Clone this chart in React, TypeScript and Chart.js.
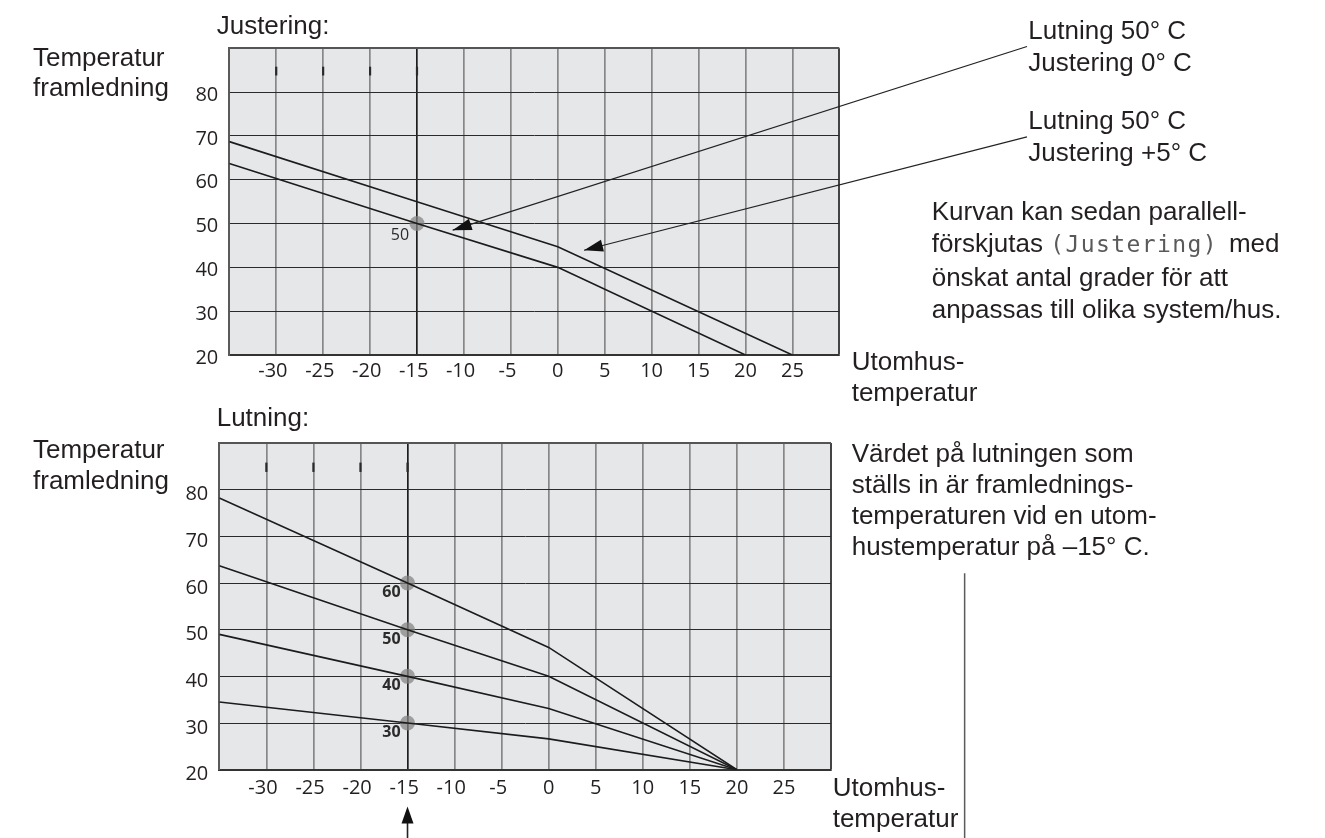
import React, { useEffect, useRef } from 'react';
import { Chart, registerables } from 'chart.js';

Chart.register(...registerables);

// ---- axes (outdoor temperature °C on x, supply temperature °C on y)
const X_MIN = -35;
const X_MAX = 30;
const Y_MIN = 20;
const Y_MAX = 90;
const X_TICKS = [-30, -25, -20, -15, -10, -5, 0, 5, 10, 15, 20, 25];
const Y_TICKS = [20, 30, 40, 50, 60, 70, 80];
const HIGHLIGHT_X = -15;

// ---- top chart: "Justering"
const ADJ0_X = [-35, -15, 0, 20];
const ADJ0_Y = [63.7, 50, 40, 20];
const ADJ5_X = [-35, -15, 0, 25];
const ADJ5_Y = [68.7, 55, 44.7, 20];
const ADJ_DOT_X = [-15];
const ADJ_DOT_Y = [50];
const ADJ_DOT_LABELS = ['50'];

// ---- bottom chart: "Lutning"
const SLOPE_X = [-35, -15, 0, 20];
const SLOPE60 = [78.2, 60, 46.2, 20];
const SLOPE50 = [63.7, 50, 40, 20];
const SLOPE40 = [49.0, 40, 33.1, 20];
const SLOPE30 = [34.5, 30, 26.6, 20];
const SLOPE_DOT_X = [-15, -15, -15, -15];
const SLOPE_DOT_Y = [60, 50, 40, 30];
const SLOPE_DOT_LABELS = ['60', '50', '40', '30'];

// ---- small marker ticks near the top of both grids
const MARK_X = [-30, -25, -20, -15];
const MARK_Y = [83.8, 85.8];

// ---- annotation arrows in the top chart (data units)
const ARROW_FROM_X = [50, 50];
const ARROW_FROM_Y = [90.4, 69.8];
const ARROW_TO_X = [-11.2, 2.8];
const ARROW_TO_Y = [48.5, 43.9];

// ---- pointer arrow and bracket line in the bottom chart (data units)
const POINTER_X = -15;
const POINTER_Y = [12.1, 5.3];
const BRACKET_X = 44.2;
const BRACKET_Y = [62.1, 5.3];

const INK = '#231f20';
const TEXT_FONT = "'Liberation Sans', Arial, Helvetica, sans-serif";
const TICK_FONT = "'Open Sans', sans-serif";

function pts(xs: number[], ys: number[]) {
  return xs.map((x, i) => ({ x, y: ys[i] }));
}

function lineDs(label: string, xs: number[], ys: number[]) {
  return {
    label,
    data: pts(xs, ys),
    borderColor: '#1c1c1c',
    borderWidth: 1.6,
    pointRadius: 0,
    tension: 0,
    fill: false,
    order: 1,
  };
}

function dotDs(xs: number[], ys: number[]) {
  return {
    label: 'dots',
    data: pts(xs, ys),
    showLine: false,
    pointRadius: 7.5,
    pointBackgroundColor: 'rgba(130,130,130,0.72)',
    pointBorderWidth: 0,
    order: 5,
  };
}

function arrowHead(ctx: CanvasRenderingContext2D, fx: number, fy: number, tx: number, ty: number, len: number, half: number) {
  const a = Math.atan2(ty - fy, tx - fx);
  ctx.beginPath();
  ctx.moveTo(tx, ty);
  ctx.lineTo(tx - len * Math.cos(a) + half * Math.sin(a), ty - len * Math.sin(a) - half * Math.cos(a));
  ctx.lineTo(tx - len * Math.cos(a) - half * Math.sin(a), ty - len * Math.sin(a) + half * Math.cos(a));
  ctx.closePath();
  ctx.fill();
}

type Opts = {
  datasets: any[];
  dotX: number[];
  dotY: number[];
  dotLabels: string[];
  bold: boolean;
  labelDx: number;
  labelDy: number;
  padding: { left: number; right: number; top: number; bottom: number };
  xAxisHeight: number;
  xTickPad: number;
  yLabelOffset: number;
  extra: (chart: any) => void;
};

function buildConfig(o: Opts): any {
  const decor = {
    id: 'decor',
    beforeDraw(chart: any) {
      const { ctx, chartArea: a } = chart;
      ctx.save();
      ctx.fillStyle = '#e6e7e9';
      ctx.fillRect(a.left, a.top, a.right - a.left, a.bottom - a.top);
      ctx.restore();
    },
    afterDatasetsDraw(chart: any) {
      const { ctx } = chart;
      const xs = chart.scales.x;
      const ys = chart.scales.y;
      ctx.save();
      // marker ticks
      ctx.strokeStyle = '#2a2a2a';
      ctx.lineWidth = 2.2;
      MARK_X.forEach((v) => {
        const px = xs.getPixelForValue(v);
        ctx.beginPath();
        ctx.moveTo(px, ys.getPixelForValue(MARK_Y[0]));
        ctx.lineTo(px, ys.getPixelForValue(MARK_Y[1]));
        ctx.stroke();
      });
      // dot labels
      ctx.fillStyle = '#2b2b2b';
      ctx.font = `${o.bold ? 'bold ' : ''}16px ${TICK_FONT}`;
      ctx.textAlign = 'center';
      ctx.textBaseline = 'middle';
      o.dotLabels.forEach((t, i) => {
        const px = xs.getPixelForValue(o.dotX[i]);
        const py = ys.getPixelForValue(o.dotY[i]);
        ctx.fillText(t, px + o.labelDx, py + o.labelDy);
      });
      ctx.restore();
    },
    afterDraw(chart: any) {
      o.extra(chart);
    },
  };

  return {
    type: 'line',
    data: { datasets: o.datasets },
    options: {
      responsive: false,
      animation: false,
      events: [],
      layout: { padding: o.padding },
      plugins: { legend: { display: false }, tooltip: { enabled: false }, title: { display: false } },
      scales: {
        x: {
          type: 'linear',
          min: X_MIN,
          max: X_MAX,
          afterFit: (s: any) => {
            s.height = o.xAxisHeight;
          },
          border: { display: true, color: '#333333', width: 2 },
          grid: {
            drawTicks: false,
            color: (c: any) => {
              const v = c.tick ? c.tick.value : null;
              if (v === HIGHLIGHT_X) return '#1e1e1e';
              if (v === X_MAX) return '#444444';
              return '#878787';
            },
            lineWidth: (c: any) => (c.tick && c.tick.value === X_MAX ? 2 : 1.7),
          },
          ticks: {
            stepSize: 5,
            autoSkip: false,
            maxRotation: 0,
            padding: o.xTickPad,
            color: INK,
            font: { family: TICK_FONT, size: 20 },
            callback: (v: any) => (X_TICKS.includes(v) ? (v < 0 ? `${v}\u2004` : `${v}`) : ''),
          },
        },
        y: {
          type: 'linear',
          min: Y_MIN,
          max: Y_MAX,
          afterFit: (s: any) => {
            s.width = 50;
          },
          border: { display: true, color: '#5a5a5a', width: 2 },
          grid: {
            drawTicks: false,
            color: (c: any) => (c.tick && c.tick.value === Y_MAX ? '#555555' : '#2a2a2a'),
            lineWidth: (c: any) => (c.tick && c.tick.value === Y_MAX ? 2 : 1),
          },
          ticks: {
            stepSize: 10,
            autoSkip: false,
            padding: 11,
            labelOffset: o.yLabelOffset,
            color: INK,
            font: { family: TICK_FONT, size: 20 },
            callback: (v: any) => (Y_TICKS.includes(v) ? `${v}` : ''),
          },
        },
      },
    },
    plugins: [decor],
  };
}

function topConfig() {
  return buildConfig({
    datasets: [
      lineDs('Lutning 50° C, Justering 0° C', ADJ0_X, ADJ0_Y),
      lineDs('Lutning 50° C, Justering +5° C', ADJ5_X, ADJ5_Y),
      dotDs(ADJ_DOT_X, ADJ_DOT_Y),
    ],
    dotX: ADJ_DOT_X,
    dotY: ADJ_DOT_Y,
    dotLabels: ADJ_DOT_LABELS,
    bold: false,
    labelDx: -17,
    labelDy: 12,
    padding: { left: 179.3, right: 485.7, top: 48.3, bottom: 0 },
    xAxisHeight: 65,
    xTickPad: 4.5,
    yLabelOffset: 3,
    extra: (chart: any) => {
      const { ctx } = chart;
      const xs = chart.scales.x;
      const ys = chart.scales.y;
      ctx.save();
      ctx.strokeStyle = '#222';
      ctx.fillStyle = '#111';
      ctx.lineWidth = 1.2;
      ARROW_FROM_X.forEach((fxv, i) => {
        const fx = xs.getPixelForValue(fxv);
        const fy = ys.getPixelForValue(ARROW_FROM_Y[i]);
        const tx = xs.getPixelForValue(ARROW_TO_X[i]);
        const ty = ys.getPixelForValue(ARROW_TO_Y[i]);
        ctx.beginPath();
        ctx.moveTo(fx, fy);
        ctx.lineTo(tx, ty);
        ctx.stroke();
        arrowHead(ctx, fx, fy, tx, ty, 19, 6);
      });
      ctx.restore();
    },
  });
}

function bottomConfig() {
  return buildConfig({
    datasets: [
      lineDs('Lutning 60', SLOPE_X, SLOPE60),
      lineDs('Lutning 50', SLOPE_X, SLOPE50),
      lineDs('Lutning 40', SLOPE_X, SLOPE40),
      lineDs('Lutning 30', SLOPE_X, SLOPE30),
      dotDs(SLOPE_DOT_X, SLOPE_DOT_Y),
    ],
    dotX: SLOPE_DOT_X,
    dotY: SLOPE_DOT_Y,
    dotLabels: SLOPE_DOT_LABELS,
    bold: true,
    labelDx: -16,
    labelDy: 9.5,
    padding: { left: 169.3, right: 494, top: 21, bottom: 0 },
    xAxisHeight: 68.3,
    xTickPad: 6.8,
    yLabelOffset: 5,
    extra: (chart: any) => {
      const { ctx } = chart;
      const xs = chart.scales.x;
      const ys = chart.scales.y;
      ctx.save();
      // pointer arrow under -15
      const px = xs.getPixelForValue(POINTER_X);
      const tipY = ys.getPixelForValue(POINTER_Y[0]);
      const endY = ys.getPixelForValue(POINTER_Y[1]);
      ctx.strokeStyle = '#222';
      ctx.fillStyle = '#111';
      ctx.lineWidth = 1.6;
      ctx.beginPath();
      ctx.moveTo(px, tipY + 10);
      ctx.lineTo(px, endY);
      ctx.stroke();
      arrowHead(ctx, px, endY, px, tipY, 17, 6);
      // bracket line at the right
      const bx = xs.getPixelForValue(BRACKET_X);
      ctx.strokeStyle = '#5a5a5a';
      ctx.lineWidth = 1.5;
      ctx.beginPath();
      ctx.moveTo(bx, ys.getPixelForValue(BRACKET_Y[0]));
      ctx.lineTo(bx, ys.getPixelForValue(BRACKET_Y[1]));
      ctx.stroke();
      ctx.restore();
    },
  });
}

const baseText: React.CSSProperties = {
  position: 'absolute',
  fontFamily: TEXT_FONT,
  fontSize: 26,
  color: INK,
  whiteSpace: 'pre',
  margin: 0,
  pointerEvents: 'none',
};

function Txt({ left, top, lh, children }: { left: number; top: number; lh: number; children: React.ReactNode }) {
  return <div style={{ ...baseText, left, top, lineHeight: `${lh}px` }}>{children}</div>;
}

export default function App() {
  const topRef = useRef<HTMLCanvasElement>(null);
  const botRef = useRef<HTMLCanvasElement>(null);

  useEffect(() => {
    const c1 = new Chart(topRef.current as HTMLCanvasElement, topConfig());
    const c2 = new Chart(botRef.current as HTMLCanvasElement, bottomConfig());
    return () => {
      c1.destroy();
      c2.destroy();
    };
  }, []);

  return (
    <div style={{ position: 'absolute', left: 0, top: 0, width: 1325, height: 838, background: '#fff', overflow: 'hidden' }}>
      <canvas ref={topRef} width={1325} height={420} style={{ position: 'absolute', left: 0, top: 0, width: 1325, height: 420 }} />
      <canvas ref={botRef} width={1325} height={418} style={{ position: 'absolute', left: 0, top: 420, width: 1325, height: 418 }} />

      <Txt left={216.7} top={9.6} lh={30}>Justering:</Txt>
      <Txt left={33} top={41.5} lh={30}>{'Temperatur\nframledning'}</Txt>
      <Txt left={1028.3} top={15.4} lh={31.7}>{'Lutning 50° C\nJustering 0° C'}</Txt>
      <Txt left={1028.3} top={105.4} lh={31.7}>{'Lutning 50° C\nJustering +5° C'}</Txt>
      <Txt left={931.7} top={195.1} lh={32.3}>
        {'Kurvan kan sedan parallell-\nförskjutas '}
        <span style={{ fontFamily: "'DejaVu Sans Mono', monospace", fontSize: 23, color: '#5a5a5a', letterSpacing: '1.4px', marginRight: 11 }}>(Justering)</span>
        {'med\nönskat antal grader för att\nanpassas till olika system/hus.'}
      </Txt>
      <Txt left={851.7} top={345.8} lh={31}>{'Utomhus-\ntemperatur'}</Txt>

      <Txt left={216.7} top={402} lh={30}>Lutning:</Txt>
      <Txt left={33} top={434.4} lh={30.4}>{'Temperatur\nframledning'}</Txt>
      <Txt left={851.7} top={437.5} lh={31}>{'Värdet på lutningen som\nställs in är framlednings-\ntemperaturen vid en utom-\nhustemperatur på –15° C.'}</Txt>
      <Txt left={832.7} top={772} lh={31}>{'Utomhus-\ntemperatur'}</Txt>
    </div>
  );
}
